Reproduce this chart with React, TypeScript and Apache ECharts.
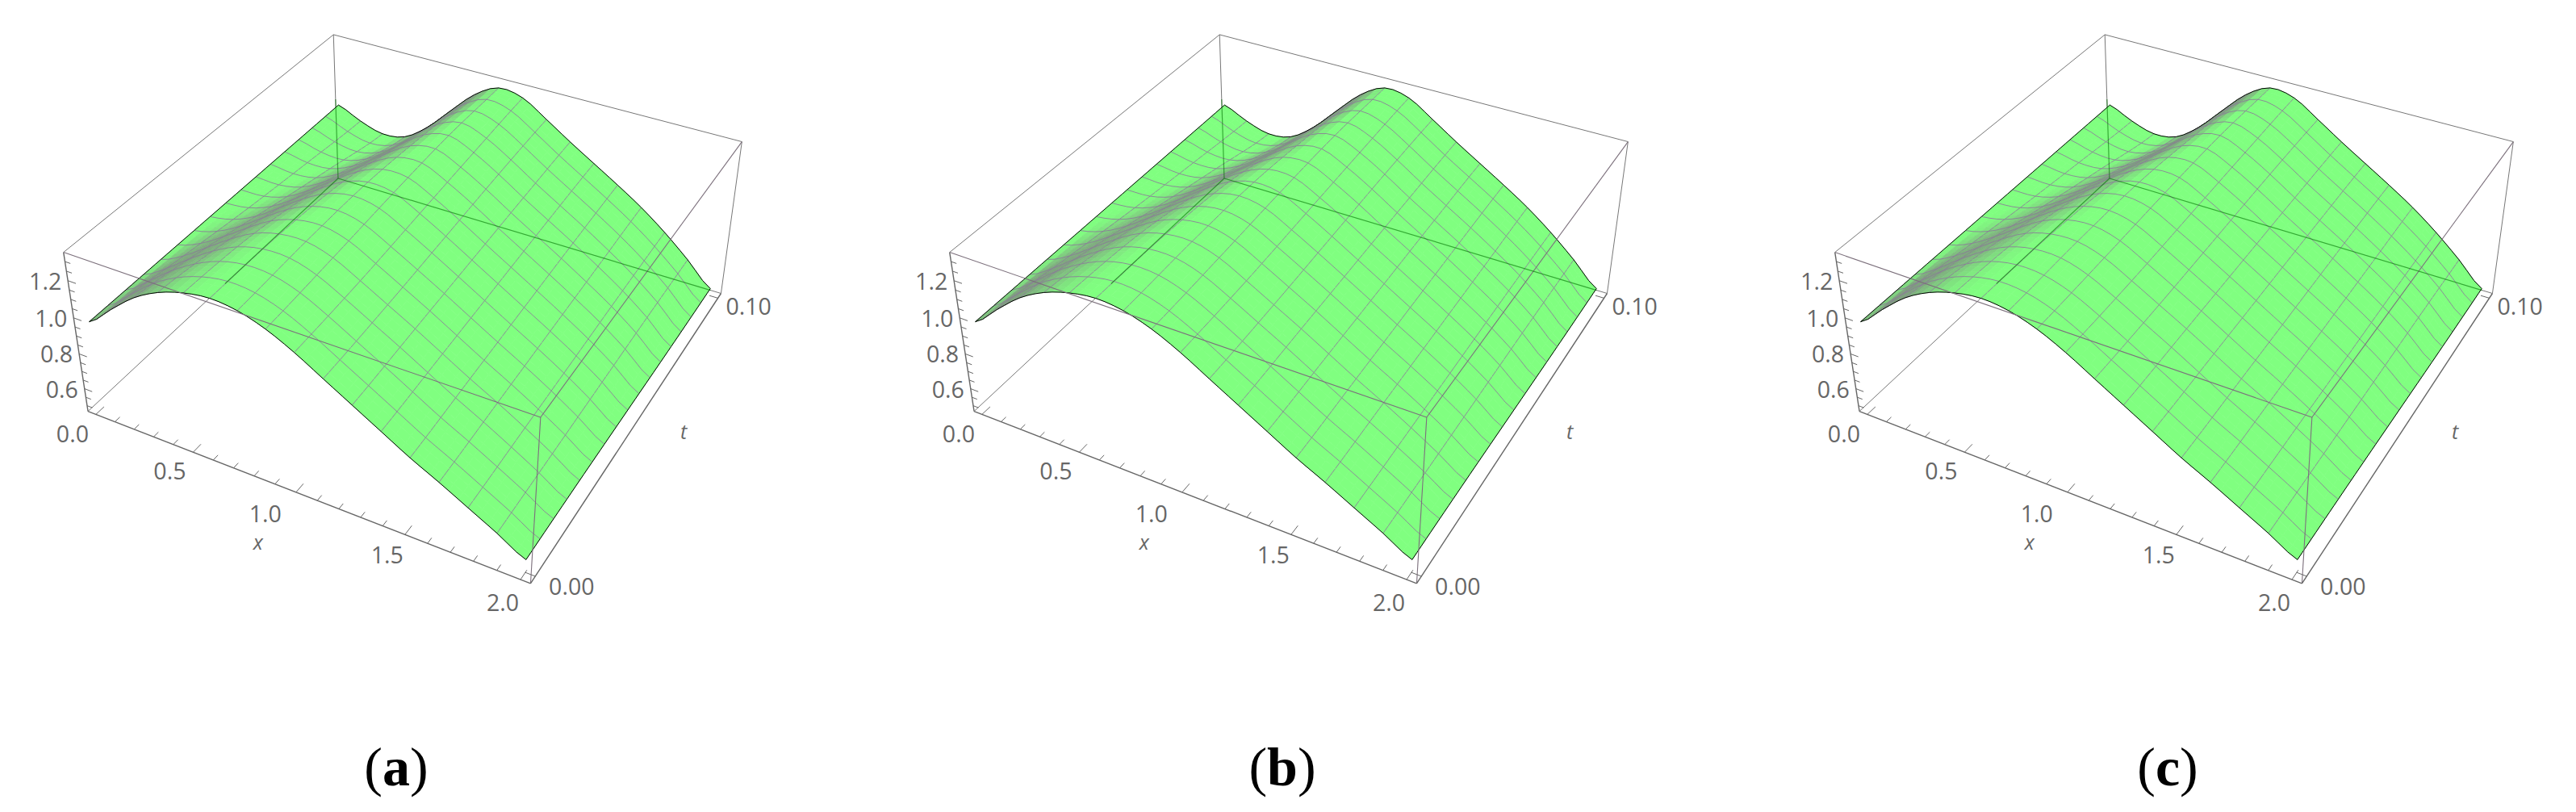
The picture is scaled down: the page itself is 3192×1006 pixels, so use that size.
import React, { useEffect, useRef } from "react";
import * as echarts from "echarts";

// ---------- values ----------
const panelNames = ["a", "b", "c"];
const xGrid = [0, 0.125, 0.25, 0.375, 0.5, 0.625, 0.75, 0.875, 1, 1.125, 1.25, 1.375, 1.5, 1.625, 1.75, 1.875, 2];
const tGrid = [0, 0.025, 0.05, 0.075, 0.1];
const uAtT000 = [0.965, 1.08, 1.19, 1.265, 1.31, 1.33, 1.315, 1.27, 1.2, 1.115, 1.03, 0.945, 0.86, 0.785, 0.705, 0.625, 0.54];
const uAtT025 = [0.965, 1.03, 1.12, 1.21, 1.285, 1.325, 1.33, 1.29, 1.215, 1.135, 1.055, 0.97, 0.885, 0.805, 0.72, 0.63, 0.535];
const uAtT050 = [0.965, 0.98, 1.03, 1.115, 1.21, 1.29, 1.33, 1.315, 1.245, 1.165, 1.08, 0.995, 0.91, 0.825, 0.735, 0.635, 0.525];
const uAtT075 = [0.965, 0.94, 0.945, 1.0, 1.09, 1.2, 1.295, 1.33, 1.275, 1.195, 1.105, 1.02, 0.935, 0.845, 0.75, 0.64, 0.515];
const uAtT100 = [0.965, 0.905, 0.865, 0.885, 0.98, 1.115, 1.245, 1.32, 1.3, 1.215, 1.125, 1.04, 0.955, 0.865, 0.76, 0.64, 0.51];
const uRows = [uAtT000, uAtT025, uAtT050, uAtT075, uAtT100];

const xTickLabels = ["0.0", "0.5", "1.0", "1.5", "2.0"];
const tTickLabels = ["0.00", "0.10"];
const zTickLabels = ["0.6", "0.8", "1.0", "1.2"];
const xMinorTicks = [0, 0.1, 0.2, 0.3, 0.4, 0.5, 0.6, 0.7, 0.8, 0.9, 1, 1.1, 1.2, 1.3, 1.4, 1.5, 1.6, 1.7, 1.8, 1.9, 2];
const zMinorTicks = [0.5, 0.55, 0.6, 0.65, 0.7, 0.75, 0.8, 0.85, 0.9, 0.95, 1, 1.05, 1.1, 1.15, 1.2, 1.25, 1.3];

// ---------- plot box and camera ----------
const BOX = { xMin: -0.042, xMax: 2.042, tMin: -0.0021, tMax: 0.1021, zMin: 0.467, zMax: 1.348 };
const CAMERA: [number, number, number, number, number][] = [
  [0, 0, 0, 109, 510], [1, 0, 0, 658, 723], [1, 1, 0, 893, 363], [0, 1, 0, 419, 221],
  [0, 0, 1, 79, 312], [1, 0, 1, 669, 517], [1, 1, 1, 920, 176], [0, 1, 1, 413, 43],
];
const PANEL_SHIFT = [0, 1098, 2195];
const MESH_CELLS = 16;
const SUB = 3;

function solve(A: number[][], b: number[]) {
  const n = b.length;
  const M = A.map((r, i) => [...r, b[i]]);
  for (let c = 0; c < n; c++) {
    let p = c;
    for (let r = c + 1; r < n; r++) if (Math.abs(M[r][c]) > Math.abs(M[p][c])) p = r;
    [M[c], M[p]] = [M[p], M[c]];
    for (let r = 0; r < n; r++) {
      if (r === c) continue;
      const f = M[r][c] / M[c][c];
      for (let k = c; k <= n; k++) M[r][k] -= f * M[c][k];
    }
  }
  return M.map((r, i) => r[n] / r[i]);
}
function fitCamera() {
  const rows: number[][] = [];
  const rhs: number[] = [];
  for (const [u, v, w, px, py] of CAMERA) {
    rows.push([u, v, w, 1, 0, 0, 0, 0, -px * u, -px * v, -px * w]);
    rhs.push(px);
    rows.push([0, 0, 0, 0, u, v, w, 1, -py * u, -py * v, -py * w]);
    rhs.push(py);
  }
  const n = 11;
  const AtA = Array.from({ length: n }, (_, i) =>
    Array.from({ length: n }, (_, j) => rows.reduce((s, r) => s + r[i] * r[j], 0))
  );
  const Atb = Array.from({ length: n }, (_, i) => rows.reduce((s, r, k) => s + r[i] * rhs[k], 0));
  return solve(AtA, Atb);
}
const P = fitCamera();
function project(x: number, t: number, z: number, shift: number): [number, number] {
  const u = (x - BOX.xMin) / (BOX.xMax - BOX.xMin);
  const v = (t - BOX.tMin) / (BOX.tMax - BOX.tMin);
  const w = (z - BOX.zMin) / (BOX.zMax - BOX.zMin);
  const d = P[8] * u + P[9] * v + P[10] * w + 1;
  return [(P[0] * u + P[1] * v + P[2] * w + P[3]) / d + shift, (P[4] * u + P[5] * v + P[6] * w + P[7]) / d];
}

// smooth drawing of the read table (same idea as a smoothed line)
function cr(a: number, b: number, c: number, d: number, s: number) {
  return 0.5 * (2 * b + (c - a) * s + (2 * a - 5 * b + 4 * c - d) * s * s + (3 * b - a - 3 * c + d) * s * s * s);
}
function surf(x: number, t: number) {
  const fx = Math.min(x / 0.125, xGrid.length - 1.000001);
  const ft = Math.min(t / 0.025, tGrid.length - 1.000001);
  const ix = Math.floor(fx), it = Math.floor(ft);
  const sx = fx - ix, st = ft - it;
  const colAt = (r: number[]) =>
    cr(r[Math.max(ix - 1, 0)], r[ix], r[ix + 1], r[Math.min(ix + 2, r.length - 1)], sx);
  return cr(
    colAt(uRows[Math.max(it - 1, 0)]), colAt(uRows[it]), colAt(uRows[it + 1]),
    colAt(uRows[Math.min(it + 2, uRows.length - 1)]), st
  );
}

const N = MESH_CELLS * SUB;
const gx = (i: number) => (2 * i) / N;
const gt = (j: number) => (0.1 * j) / N;

function cellColor(i: number, j: number) {
  const x = gx(i + 0.5), t = gt(j + 0.5);
  const h = 0.06;
  const slope = (surf(Math.min(x + h, 2), t) - surf(Math.max(x - h, 0), t)) / (2 * h);
  let d = (slope - 0.1) / 0.8;
  d = Math.max(0, Math.min(1, d));
  d = d * d * (3 - 2 * d);
  const r = Math.round(128 + (126 - 128) * d);
  const g = Math.round(255 + (158 - 255) * d);
  const b = Math.round(128 + (126 - 128) * d);
  return `rgb(${r},${g},${b})`;
}

const MESH = "#8a7a98";

function surfaceSeries(shift: number, index: number) {
  const data: number[][] = [];
  for (let j = N - 1; j >= 0; j--) {
    for (let i = 0; i < N; i++) data.push([0, i, j]);
    // the far boundary of this strip is drawn once both neighbouring strips are painted
    if ((j + 1) % SUB === 0 && j + 1 < N) data.push([1, 0, j + 1]);
    for (let i = SUB; i < N; i += SUB) data.push([2, i, j]);
  }
  return {
    type: "custom",
    coordinateSystem: "cartesian2d",
    silent: true,
    clip: false,
    progressive: 0,
    z: 3,
    name: "surface " + panelNames[index],
    data,
    renderItem(_p: any, api: any) {
      const kind = api.value(0), i = api.value(1), j = api.value(2);
      const pt = (a: number, b: number) => api.coord(project(gx(a), gt(b), surf(gx(a), gt(b)), shift));
      if (kind === 0) {
        const c = cellColor(i, j);
        return {
          type: "polygon",
          shape: { points: [pt(i, j), pt(i + 1, j), pt(i + 1, j + 1), pt(i, j + 1)] },
          style: { fill: c, stroke: c, lineWidth: 0.7 },
        };
      }
      const points: number[][] = [];
      if (kind === 1) for (let a = 0; a <= N; a++) points.push(pt(a, j));
      else points.push(pt(i, j), pt(i, j + 1));
      return { type: "polyline", shape: { points }, style: { stroke: MESH, lineWidth: 0.85, fill: null } };
    },
  };
}

function edgeSeries(shift: number, index: number) {
  return {
    type: "custom",
    coordinateSystem: "cartesian2d",
    silent: true,
    clip: false,
    progressive: 0,
    z: 4,
    name: "edges " + panelNames[index],
    data: [[0], [1], [2], [3]],
    renderItem(_p: any, api: any) {
      const e = api.value(0);
      const points: number[][] = [];
      for (let a = 0; a <= N; a++) {
        const x = e === 0 ? gx(a) : e === 1 ? gx(a) : e === 2 ? 0 : 2;
        const t = e === 0 ? 0 : e === 1 ? 0.1 : gt(a);
        points.push(api.coord(project(x, t, surf(x, t), shift)));
      }
      return { type: "polyline", shape: { points }, style: { stroke: "#000", lineWidth: 1, fill: null } };
    },
  };
}

// segment: x1,t1,z1,x2,t2,z2,style
function segSeries(shift: number, segs: number[][], styles: any[], z: number, name: string) {
  return {
    type: "custom",
    coordinateSystem: "cartesian2d",
    silent: true,
    clip: false,
    progressive: 0,
    z,
    name,
    data: segs,
    renderItem(_p: any, api: any) {
      const a = api.coord(project(api.value(0), api.value(1), api.value(2), shift));
      const b = api.coord(project(api.value(3), api.value(4), api.value(5), shift));
      return { type: "line", shape: { x1: a[0], y1: a[1], x2: b[0], y2: b[1] }, style: styles[api.value(6)] };
    },
  };
}

const { xMin: x0, xMax: x1, tMin: t0, tMax: t1, zMin: z0, zMax: z1 } = BOX;
const backStyles = [
  { stroke: "#777", lineWidth: 1 },
  { stroke: "#666", lineWidth: 1.3 },
];
const backSegs = [
  [x0, t1, z0, x0, t1, z1, 0],
  [x0, t0, z0, x0, t1, z0, 0],
  [x0, t1, z0, x1, t1, z0, 0],
  [x1, t1, z0, x1, t1, z1, 0],
  [x0, t0, z1, x0, t1, z1, 0],
  [x0, t1, z1, x1, t1, z1, 0],
];
const frontStyles = [
  { stroke: "#7c707c", lineWidth: 1.1 },
  { stroke: "#666", lineWidth: 1.4 },
  { stroke: "rgba(0,113,0,0.6)", lineWidth: 1.2 },
  { stroke: "#666", lineWidth: 1 },
];
const FRONT_GREEN_T = 0.05;
const frontSegs: number[][] = [
  [x0, t0, z1, x1, t0, z1, 0],
  [x1, t0, z1, x1, t1, z1, 0],
  [x1, t0, z0, x1, t0, z1, 0],
  [x0, t0, z0, x1, t0, z0, 1],
  [x1, t0, z0, x1, t1, z0, 1],
  [x0, t0, z0, x0, t0, z1, 1],
  [x0, t1, z0, x0, t1, 0.965, 2],
  [x0, t1, z0, 1.99, t1, z0, 2],
  [x0, FRONT_GREEN_T, z0, x0, t1, z0, 2],
];
xMinorTicks.forEach((v, i) => frontSegs.push([v, t0, z0, v, t0 + (i % 5 === 0 ? 0.0028 : 0.0017), z0, 3]));
zMinorTicks.forEach((v) => {
  const major = Math.abs(v / 0.2 - Math.round(v / 0.2)) < 1e-6;
  frontSegs.push([x0, t0, v, x0 + (major ? 0.04 : 0.027), t0, v, 3]);
});
[0, 0.1].forEach((v) => frontSegs.push([x1, v, z0, x1 - 0.042, v, z0, 3]));

const FONT = "'Open Sans', sans-serif";
const XLABEL_OFFSET = [[-29, 24], [-29, 23], [-38, 26], [-22, 25], [-22, 28]];
const TLABEL_OFFSET = [[45, 12], [38, 10]];
const ZLABEL_DX = -28;

function labels(shift: number, index: number) {
  const g: any[] = [];
  const put = (text: string, p: number[], dx: number, dy: number, italic = false) =>
    g.push({
      type: "text",
      x: p[0] + dx,
      y: p[1] + dy,
      silent: true,
      style: {
        text, fill: "#666", font: `${italic ? "italic 25px" : "28.5px"} ${FONT}`,
        textAlign: "center", textVerticalAlign: "middle",
      },
    });
  xTickLabels.forEach((s, i) => put(s, project(+s, t0, z0, shift), XLABEL_OFFSET[i][0], XLABEL_OFFSET[i][1]));
  tTickLabels.forEach((s, i) => put(s, project(x1, +s, z0, shift), TLABEL_OFFSET[i][0], TLABEL_OFFSET[i][1]));
  zTickLabels.forEach((s) => put(s, project(x0, t0, +s, shift), ZLABEL_DX, 0));
  put("x", project(1, t0, z0, shift), -47, 61, true);
  put("t", project(x1, 0.05, z0, shift), 59, 10, true);
  g.push({
    type: "text",
    x: 491 + shift,
    y: 950,
    silent: true,
    style: {
      text: `{p|(}{b|${panelNames[index]}}{p|)}`,
      textAlign: "center",
      textVerticalAlign: "middle",
      rich: {
        p: { font: "68px 'Liberation Serif', serif", fill: "#000" },
        b: { font: "bold 68px 'Liberation Serif', serif", fill: "#000" },
      },
    },
  });
  return g;
}

export default function App() {
  const ref = useRef<HTMLDivElement>(null);
  useEffect(() => {
    const chart = echarts.init(ref.current!, undefined, { renderer: "svg" });
    const series: any[] = [];
    const graphic: any[] = [];
    PANEL_SHIFT.forEach((shift, idx) => {
      series.push(segSeries(shift, backSegs, backStyles, 2, "box back " + panelNames[idx]));
      series.push(surfaceSeries(shift, idx));
      series.push(edgeSeries(shift, idx));
      series.push(segSeries(shift, frontSegs, frontStyles, 5, "box front " + panelNames[idx]));
      graphic.push(...labels(shift, idx));
    });
    chart.setOption({
      animation: false,
      backgroundColor: "#fff",
      grid: { left: 0, right: 0, top: 0, bottom: 0 },
      xAxis: { type: "value", min: 0, max: 3192, show: false },
      yAxis: { type: "value", min: 0, max: 1006, inverse: true, show: false },
      graphic,
      series,
    });
    return () => chart.dispose();
  }, []);
  return <div ref={ref} style={{ position: "absolute", left: 0, top: 0, width: 3192, height: 1006 }} />;
}
